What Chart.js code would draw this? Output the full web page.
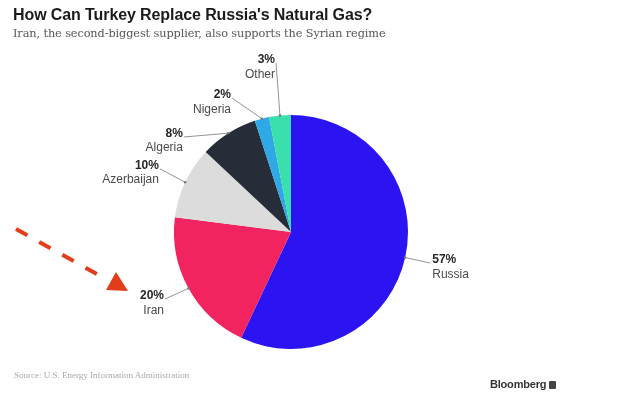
<!DOCTYPE html>
<html>
<head>
<meta charset="utf-8">
<script src="https://cdn.jsdelivr.net/npm/chart.js@4/dist/chart.umd.min.js"></script>
<style>
  html, body { margin: 0; padding: 0; background: #ffffff; }
  #wrap { position: relative; width: 620px; height: 398px; overflow: hidden; background: #ffffff; }
  #c { position: absolute; left: 0; top: 0; }
  .txt { position: absolute; white-space: nowrap; }
  #title { left: 13px; top: 6px; font: bold 16px "Liberation Sans", Arial, sans-serif; line-height: 18px; color: #1b1b1b; letter-spacing: -0.1px; }
  #subtitle { left: 13px; top: 26px; font: 11.3px "DejaVu Serif", "Liberation Serif", serif; line-height: 15px; color: #555555; letter-spacing: -0.1px; }
  #source { left: 14px; top: 370px; font: 9px "Liberation Serif", serif; line-height: 11px; color: #a8a8a8; }
  #logo { left: 490px; top: 378px; font: bold 11px "Liberation Sans", Arial, sans-serif; line-height: 13px; color: #333333; letter-spacing: -0.2px; }
  #logo span { display: inline-block; width: 7px; height: 8px; background: #444; border-radius: 1px; margin-left: 3px; vertical-align: -1px; }
</style>
</head>
<body>
<div id="wrap">
  <canvas id="c" width="620" height="398"></canvas>
  <div class="txt" id="title">How Can Turkey Replace Russia's Natural Gas?</div>
  <div class="txt" id="subtitle">Iran, the second-biggest supplier, also supports the Syrian regime</div>
  <div class="txt" id="source">Source: U.S. Energy Information Administration</div>
  <div class="txt" id="logo">Bloomberg<span></span></div>
</div>
<script>
// ---- data ----
const categories = ['Russia', 'Iran', 'Azerbaijan', 'Algeria', 'Nigeria', 'Other'];
const shares = [57, 20, 10, 8, 2, 3];

// ---- styles ----
const sliceColors = ['#2c14f2', '#f2245f', '#dcdcdc', '#262c38', '#2fa8e6', '#39e0ae'];
// label anchor positions, expressed relative to pie centre in units of radius
const labelAnchors = [
  [1.19, 0.265],
  [-1.077, 0.573],
  [-1.12, -0.54],
  [-0.915, -0.812],
  [-0.504, -1.145],
  [-0.128, -1.444]
];

const leaderLabels = {
  id: 'leaderLabels',
  afterDatasetsDraw(chart) {
    const ctx = chart.ctx;
    const meta = chart.getDatasetMeta(0);
    ctx.save();
    meta.data.forEach((arc, i) => {
      const p = arc.getProps(['x', 'y', 'startAngle', 'endAngle', 'outerRadius'], true);
      const mid = (p.startAngle + p.endAngle) / 2;
      const px = p.x + Math.cos(mid) * p.outerRadius;
      const py = p.y + Math.sin(mid) * p.outerRadius;
      const lx = p.x + labelAnchors[i][0] * p.outerRadius;
      const ly = p.y + labelAnchors[i][1] * p.outerRadius;
      ctx.strokeStyle = '#949494';
      ctx.lineWidth = 1;
      ctx.beginPath();
      ctx.moveTo(px, py);
      ctx.lineTo(lx, ly);
      ctx.stroke();
      ctx.fillStyle = '#777777';
      ctx.beginPath();
      ctx.arc(px, py, 1.3, 0, Math.PI * 2);
      ctx.fill();
      const right = lx > p.x;
      ctx.textAlign = right ? 'left' : 'right';
      ctx.textBaseline = 'alphabetic';
      const tx = right ? lx + 2 : lx - 1;
      ctx.fillStyle = '#262626';
      ctx.font = 'bold 12px "Liberation Sans", Arial, sans-serif';
      ctx.fillText(shares[i] + '%', tx, ly);
      ctx.fillStyle = '#4a4a4a';
      ctx.font = '12px "Liberation Sans", Arial, sans-serif';
      ctx.fillText(categories[i], tx, ly + 14.5);
    });
    ctx.restore();
  }
};

// decorative red dashed arrow pointing at Iran
const arrowDecor = {
  id: 'arrowDecor',
  afterDraw(chart) {
    const ctx = chart.ctx;
    ctx.save();
    const x0 = 16, y0 = 229, x1 = 104, y1 = 278;
    ctx.strokeStyle = '#e23c1b';
    ctx.lineWidth = 4;
    ctx.setLineDash([13, 13.5]);
    ctx.beginPath();
    ctx.moveTo(x0, y0);
    ctx.lineTo(x1, y1);
    ctx.stroke();
    ctx.setLineDash([]);
    ctx.fillStyle = '#e23c1b';
    ctx.beginPath();
    ctx.moveTo(128, 291);
    ctx.lineTo(106, 290);
    ctx.lineTo(116, 272);
    ctx.closePath();
    ctx.fill();
    ctx.restore();
  }
};

new Chart(document.getElementById('c'), {
  type: 'pie',
  data: {
    labels: categories,
    datasets: [{
      data: shares,
      backgroundColor: sliceColors,
      borderWidth: 0
    }]
  },
  options: {
    responsive: false,
    animation: false,
    devicePixelRatio: 1,
    layout: { padding: { left: 174, right: 212, top: 115, bottom: 49 } },
    plugins: {
      legend: { display: false },
      tooltip: { enabled: false },
      title: { display: false }
    }
  },
  plugins: [leaderLabels, arrowDecor]
});
</script>
</body>
</html>
